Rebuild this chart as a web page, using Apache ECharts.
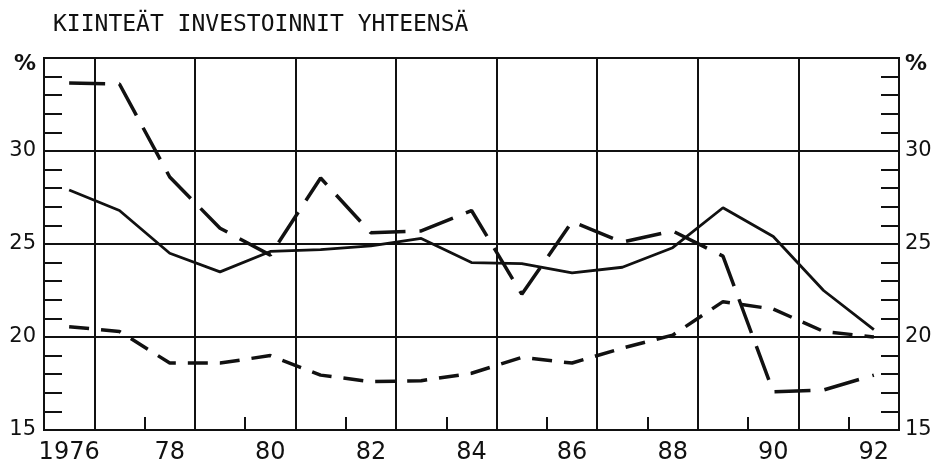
<!DOCTYPE html>
<html>
<head>
<meta charset="utf-8">
<script src="https://cdn.jsdelivr.net/npm/echarts@6/dist/echarts.min.js"></script>
<style>
  html, body { margin: 0; padding: 0; background: #fff; }
  #chart { width: 940px; height: 469px; }
</style>
</head>
<body>
<div id="chart"></div>
<script>
// years on the x axis (one band per year)
const years = [1976, 1977, 1978, 1979, 1980, 1981, 1982, 1983, 1984,
  1985, 1986, 1987, 1988, 1989, 1990, 1991, 1992];

// solid line
const solidValues = [27.9, 26.8, 24.5, 23.5, 24.6, 24.7, 24.9, 25.3, 24.0,
  23.95, 23.45, 23.75, 24.8, 26.95, 25.4, 22.5, 20.4];

// long dashes
const longDashValues = [33.65, 33.6, 28.6, 25.85, 24.4, 28.55, 25.6, 25.7, 26.8,
  22.3, 26.2, 25.1, 25.7, 24.35, 17.05, 17.15, 17.95];

// short dashes
const shortDashValues = [20.55, 20.3, 18.6, 18.6, 19.0, 17.95, 17.6, 17.65, 18.05,
  18.9, 18.6, 19.4, 20.1, 21.9, 21.5, 20.3, 20.0];

const chart = echarts.init(document.getElementById('chart'));

const tickFont = { color: '#111', fontFamily: 'DejaVu Sans', fontSize: 21 };

const yAxisBase = {
  type: 'value',
  min: 15,
  max: 35,
  interval: 5,
  axisLine: { show: true, lineStyle: { color: '#111', width: 2 } },
  axisTick: { show: true, inside: true, length: 18, lineStyle: { color: '#111', width: 2 } },
  minorTick: { show: true, splitNumber: 5, length: 18, lineStyle: { color: '#111', width: 2 } },
  splitLine: { show: true, lineStyle: { color: '#111', width: 2 } },
  axisLabel: {
    ...tickFont,
    formatter: v => (v === 35 ? '{p|%}' : String(v)),
    rich: { p: { fontFamily: 'DejaVu Sans', fontSize: 22, fontWeight: 'bold', color: '#111', padding: [12, 0, 0, 0] } }
  }
};

const option = {
  animation: false,
  backgroundColor: '#fff',
  title: {
    text: 'KIINTEÄT INVESTOINNIT YHTEENSÄ',
    left: 48,
    top: 9,
    textStyle: { fontFamily: 'DejaVu Sans Mono', fontSize: 23, fontWeight: 'normal', color: '#111' }
  },
  grid: {
    left: 44, right: 41, top: 58, bottom: 39,
    show: true, borderColor: '#111', borderWidth: 2
  },
  xAxis: {
    type: 'category',
    data: years,
    boundaryGap: true,
    axisLine: { show: true, lineStyle: { color: '#111', width: 2 } },
    axisTick: {
      show: true, inside: true, length: 13,
      interval: i => i % 2 === 0,
      lineStyle: { color: '#111', width: 2 }
    },
    splitLine: {
      show: true,
      interval: i => i % 2 === 1,
      lineStyle: { color: '#111', width: 2 }
    },
    axisLabel: {
      color: '#111', fontFamily: 'DejaVu Sans', fontSize: 24, margin: 11,
      interval: i => i % 2 === 0,
      formatter: v => (v === '1976' ? v : String(v).slice(2))
    }
  },
  yAxis: [
    { ...yAxisBase, position: 'left', axisLabel: { ...yAxisBase.axisLabel, margin: 8 } },
    { ...yAxisBase, position: 'right', splitLine: { show: false }, axisLabel: { ...yAxisBase.axisLabel, margin: 6 } }
  ],
  series: [
    {
      name: 'solid',
      type: 'line',
      data: solidValues,
      symbol: 'none',
      lineStyle: { color: '#111', width: 2.8, type: 'solid' }
    },
    {
      name: 'long dash',
      type: 'line',
      data: longDashValues,
      symbol: 'none',
      lineStyle: { color: '#111', width: 3.5, type: [36, 14] }
    },
    {
      name: 'short dash',
      type: 'line',
      data: shortDashValues,
      symbol: 'none',
      lineStyle: { color: '#111', width: 3.5, type: [20, 12] }
    }
  ]
};

chart.setOption(option);
window.addEventListener('resize', () => chart.resize());
</script>
</body>
</html>
